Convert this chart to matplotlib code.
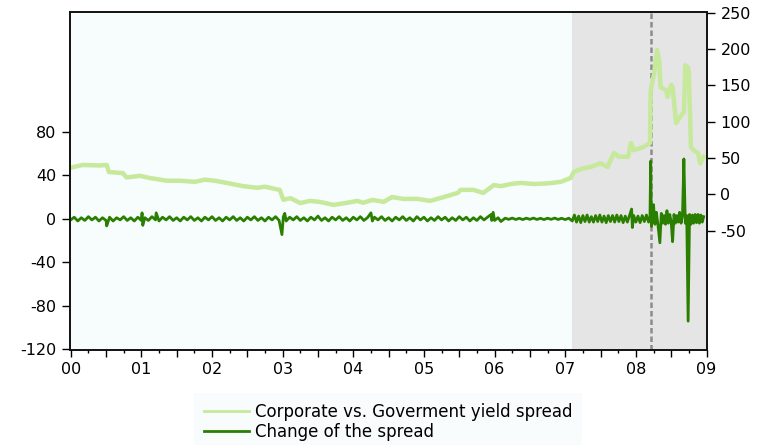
import matplotlib
matplotlib.use("Agg")
import numpy as np
import matplotlib.pyplot as plt

plt.rcParams['font.family'] = ['DejaVu Sans']
plt.rcParams['axes.unicode_minus'] = False

#
# Data (time in years since 2000, values in basis points)
#

# Corporate vs. government yield spread
spread_t = [0.00, 0.17, 0.41, 0.51, 0.54, 0.74, 0.79, 0.98, 1.12, 1.36,
            1.55, 1.76, 1.90, 2.04, 2.21, 2.44, 2.64, 2.75, 2.96, 3.01,
            3.11, 3.25, 3.39, 3.53, 3.72, 3.91, 4.06, 4.14, 4.27, 4.43,
            4.55, 4.71, 4.91, 5.09, 5.28, 5.48, 5.52, 5.70, 5.84, 5.99,
            6.09, 6.23, 6.37, 6.55, 6.75, 6.94, 7.08, 7.12, 7.22, 7.36,
            7.50, 7.60, 7.69, 7.76, 7.89, 7.93, 7.97, 8.11, 8.20, 8.21,
            8.26, 8.30, 8.33, 8.35, 8.43, 8.45, 8.50, 8.52, 8.57, 8.64,
            8.68, 8.70, 8.74, 8.75, 8.78, 8.82, 8.88, 8.91, 8.96]
spread_v = [47, 49.5, 49, 49.5, 43, 42, 38, 39.5, 37.5, 35,
            35, 34, 36, 35, 33, 30, 28.5, 29.5, 26.5, 17.5,
            19, 14.5, 16.5, 15.5, 12.8, 14.7, 16.5, 14.7, 17.4, 15.6,
            20, 18.3, 18.3, 16.5, 20, 23.8, 26.6, 26.6, 23.8, 31,
            30, 32, 33, 32, 32.5, 34, 37.6, 43, 45.8, 47.7,
            51, 47.7, 60.5, 57, 57, 69.7, 63, 66, 69.7, 118,
            134, 155, 146, 121, 118, 112, 123, 121, 88, 95,
            98, 141, 139, 134, 66, 63, 60.5, 51, 57]

# Daily change of the spread (quiet periods thinned out)
change_pts = [
    (0.00, -1), (0.05, 1.5), (0.10, -2), (0.15, 1), (0.20, -1.5), (0.25, 2), (0.30, -1),
    (0.35, 1.5), (0.40, -2), (0.45, 1), (0.50, -1.5), (0.51, -6.5), (0.55, 1.5), (0.60, -2),
    (0.65, 1), (0.70, -1), (0.75, 2), (0.80, -1.5), (0.85, 1), (0.90, -2), (0.95, 1.5),
    (1.00, -1.5), (1.01, 5.5), (1.02, -6), (1.05, 1), (1.10, -1.5), (1.15, 2), (1.20, -1),
    (1.21, 5.5), (1.25, -2), (1.30, 1.5), (1.35, -1), (1.40, 2), (1.45, -1.5), (1.50, 1),
    (1.55, -2), (1.60, 1.5), (1.65, -1), (1.70, 2), (1.75, -1.5), (1.80, 1), (1.85, -2),
    (1.90, 1.5), (1.95, -1),
    (2.00, 2), (2.05, -1.5), (2.10, 1), (2.15, -2), (2.20, 1.5), (2.25, -1), (2.30, 2),
    (2.35, -1.5), (2.40, 1), (2.45, -2), (2.50, 1.5), (2.55, -1), (2.60, 2), (2.65, -1.5),
    (2.70, 1), (2.75, -2), (2.80, 1.5), (2.85, -1), (2.90, 2), (2.95, -1.5),
    (2.99, -14.5), (3.01, 2), (3.03, 5), (3.05, -2), (3.10, 1.5), (3.15, -1), (3.20, 2),
    (3.25, -1.5), (3.30, 1), (3.35, -2), (3.40, 1.5), (3.45, -1), (3.50, 2.5), (3.55, -1.5),
    (3.60, 1), (3.65, -2), (3.70, 1.5), (3.75, -1), (3.80, 2), (3.85, -1.5), (3.90, 1),
    (3.95, -2),
    (4.00, 1.5), (4.05, -1), (4.10, 2), (4.15, -1.5), (4.20, 1), (4.25, 5.5), (4.27, -2),
    (4.30, 1.5), (4.35, -1), (4.40, 2), (4.45, -1.5), (4.50, 1), (4.55, -2), (4.60, 1.5),
    (4.65, -1), (4.70, 2), (4.75, -1.5), (4.80, 1), (4.85, -2), (4.90, 2), (4.95, -1),
    (5.00, 1.5), (5.05, -2), (5.10, 1), (5.15, -1.5), (5.20, 2), (5.25, -1), (5.30, 1.5),
    (5.35, -2), (5.40, 1), (5.45, -1.5), (5.50, 2), (5.55, -1), (5.60, 1.5), (5.65, -2),
    (5.70, 1), (5.75, -1.5), (5.80, 2), (5.85, -1), (5.90, 1.5), (5.95, 4), (5.96, -1.5),
    (5.98, 6), (6.00, -1.5), (6.05, 1), (6.09, -2.5),
    (6.15, 0.6), (6.20, -0.5), (6.25, 0.7), (6.30, -0.6), (6.35, 0.5), (6.40, -0.7),
    (6.45, 0.6), (6.50, -0.5), (6.55, 0.7), (6.60, -0.6), (6.65, 0.5), (6.70, -0.7),
    (6.75, 0.6), (6.80, -0.5), (6.85, 0.7), (6.90, -0.6), (6.95, 0.5), (7.00, -0.7),
    (7.05, 0.6),
    (7.10, -2), (7.13, 3.5), (7.16, -3), (7.19, 2.5), (7.22, -3.5), (7.25, 3), (7.28, -2.5),
    (7.31, 3.5), (7.34, -3), (7.37, 2), (7.40, -3), (7.43, 3), (7.46, -2.5), (7.49, 3.5),
    (7.52, -3), (7.55, 2.5), (7.58, -3.5), (7.61, 3), (7.64, -2.5), (7.67, 3), (7.70, -3),
    (7.73, 3.5), (7.76, -2.5), (7.79, 3), (7.82, -3.5), (7.85, 2.5), (7.88, -3), (7.91, 3),
    (7.94, 9), (7.95, -8), (7.97, 3), (8.00, -3), (8.03, 2.5), (8.06, -3.5), (8.09, 3),
    (8.12, -2.5), (8.15, 3.5), (8.18, -3), (8.20, 2), (8.21, 53), (8.22, -7), (8.24, 4),
    (8.25, 13), (8.27, -5), (8.29, 6), (8.31, -4), (8.34, -22), (8.36, 5), (8.38, -4),
    (8.40, 3), (8.42, -5), (8.44, 7.5), (8.46, -4), (8.48, 4), (8.50, -3), (8.52, -21),
    (8.54, 4), (8.56, -4), (8.58, 3), (8.60, -3), (8.62, 6), (8.64, -4), (8.66, 3),
    (8.68, 55), (8.70, -4), (8.72, 3), (8.74, -94), (8.76, 4), (8.78, -5), (8.80, 3.5),
    (8.82, -4), (8.84, 4), (8.86, -3.5), (8.88, 4), (8.90, -4), (8.92, 3.5), (8.94, -3),
    (8.96, 2),
]
change_t = [p[0] for p in change_pts]
change_v = [p[1] for p in change_pts]

# Shaded crisis period and marked event
crisis_start = 7.10
crisis_end = 9.0
event_t = 8.21

year_labels = ["00", "01", "02", "03", "04", "05", "06", "07", "08", "09"]
left_ticks = [-120, -80, -40, 0, 40, 80]
right_ticks = [-50, 0, 50, 100, 150, 200, 250]

series_labels = ["Corporate vs. Goverment yield spread", "Change of the spread"]

#
# Plotting
#
fig = plt.figure(figsize=(7.59, 4.45), dpi=100)
ax = fig.add_axes([70 / 759, 1 - 350 / 445, 636.5 / 759, 338 / 445])
ax.set_facecolor("#f7fcfc")

ax.axvspan(crisis_start, crisis_end, color="#e5e5e5", lw=0, zorder=0.5)
ax.axvline(event_t, color="#8c8c8c", ls=(0, (2.2, 1.2)), lw=1.8, zorder=1)

spreadplt, = ax.plot(spread_t, spread_v, color="#c6e99b", lw=3.2, zorder=2)
changeplt, = ax.plot(change_t, change_v, color="#2b7f00", lw=2, zorder=3)

ax.set_xlim(-0.01, 9.0)
ax.set_ylim(-120.5, 190)
ax.set_yticks(left_ticks)

major_x = np.arange(0, 9.01, 0.5)
ax.set_xticks(major_x)
ax.set_xticklabels([year_labels[int(v)] if v == int(v) else "" for v in major_x])
ax.set_xticks(np.arange(0.25, 9.0, 0.5), minor=True)
ax.tick_params(axis="x", which="major", length=5, width=1, pad=4, labelsize=11.5)
ax.tick_params(axis="x", which="minor", length=2.5, width=1)
ax.tick_params(axis="y", length=6, width=1, pad=4, labelsize=11.5)

ax2 = ax.twinx()
ax2.set_ylim(-214, 251)
ax2.set_yticks(right_ticks)
ax2.tick_params(axis="y", length=6, width=1, pad=4, labelsize=11.5)

for a in (ax, ax2):
    for s in a.spines.values():
        s.set_linewidth(1.2)
        s.set_color("#111111")

leg = fig.legend([spreadplt, changeplt], series_labels, loc="center",
                 bbox_to_anchor=(388 / 759, 1 - 422 / 445), fontsize=12,
                 frameon=True, facecolor="#f7fcfc", edgecolor="none", fancybox=False,
                 handlelength=2.7, handletextpad=0.35, labelspacing=0.12, borderpad=0.6)
for line in leg.get_lines():
    line.set_linewidth(2)

fig.savefig("out.png", dpi=100)
